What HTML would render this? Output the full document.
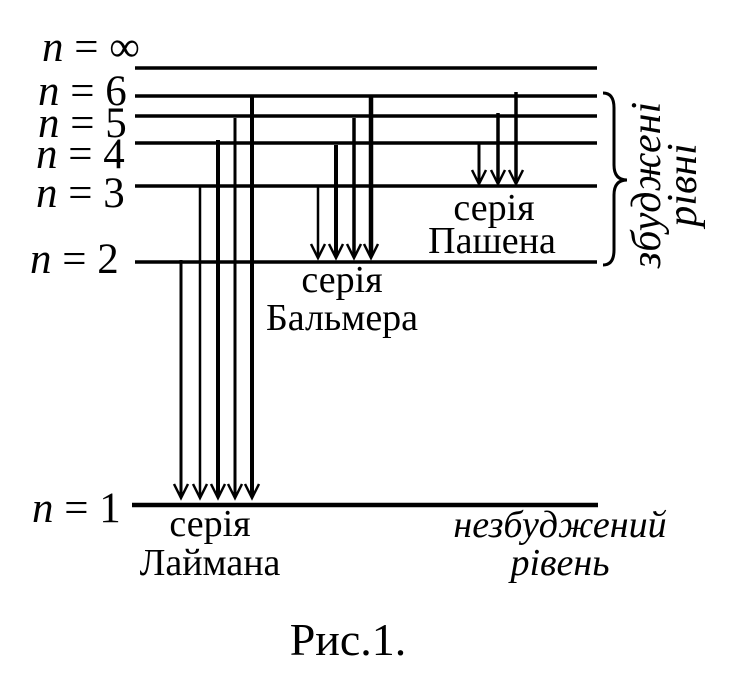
<!DOCTYPE html>
<html><head><meta charset="utf-8"><style>body{margin:0;background:#fff}</style></head><body>
<svg width="736" height="680" viewBox="0 0 736 680" xmlns="http://www.w3.org/2000/svg" font-family="Liberation Serif, serif">
<g stroke="#000" stroke-width="3.5">
<line x1="135" y1="68" x2="597" y2="68"/>
<line x1="135" y1="96" x2="597" y2="96"/>
<line x1="135" y1="116" x2="597" y2="116"/>
<line x1="135" y1="143" x2="597" y2="143"/>
<line x1="135" y1="186" x2="597" y2="186"/>
<line x1="135" y1="262" x2="597" y2="262"/>
<line x1="132" y1="505" x2="598" y2="505" stroke-width="4.5"/>
</g>
<g stroke="#000" fill="none">
<g stroke-width="3"><line x1="181" y1="260" x2="181" y2="496"/><line x1="200" y1="186" x2="200" y2="496" stroke-width="2.5"/><line x1="218" y1="140" x2="218" y2="496" stroke-width="4"/><line x1="235" y1="118" x2="235" y2="496"/><line x1="252" y1="96" x2="252" y2="496" stroke-width="4"/>
<line x1="318" y1="186" x2="318" y2="256" stroke-width="2.5"/><line x1="336" y1="145" x2="336" y2="256" stroke-width="4"/><line x1="354" y1="118" x2="354" y2="256" stroke-width="3.5"/><line x1="371" y1="95" x2="371" y2="256" stroke-width="4.5"/>
<line x1="479" y1="142" x2="479" y2="182"/><line x1="498" y1="113" x2="498" y2="182" stroke-width="3.5"/><line x1="516" y1="92" x2="516" y2="182" stroke-width="3.5"/></g>
<g stroke-width="2.5" stroke-linejoin="miter">
<polyline points="174,484 181,498 188,484"/><polyline points="193,484 200,498 207,484"/><polyline points="211,484 218,498 225,484"/><polyline points="228,484 235,498 242,484"/><polyline points="245,484 252,498 259,484"/>
<polyline points="311,244 318,258 325,244"/><polyline points="329,244 336,258 343,244"/><polyline points="347,244 354,258 361,244"/><polyline points="364,244 371,258 378,244"/>
<polyline points="472,170 479,184 486,170"/><polyline points="491,170 498,184 505,170"/><polyline points="509,170 516,184 523,170"/>
</g>
<path d="M603,93 Q614,93 614,108 L614,165 Q614,180 627,180 Q614,180 614,195 L614,250 Q614,265 603,265" stroke-width="3"/>
</g>
<g font-size="43">
<text x="42" y="61"><tspan font-style="italic">n</tspan> = ∞</text>
<text x="38" y="105"><tspan font-style="italic">n</tspan> = 6</text>
<text x="38" y="137"><tspan font-style="italic">n</tspan> = 5</text>
<text x="36" y="168"><tspan font-style="italic">n</tspan> = 4</text>
<text x="36" y="207"><tspan font-style="italic">n</tspan> = 3</text>
<text x="30" y="273"><tspan font-style="italic">n</tspan> = 2</text>
<text x="32" y="522"><tspan font-style="italic">n</tspan> = 1</text>
</g>
<g font-size="38" text-anchor="middle">
<text x="494" y="220">серія</text><text x="492" y="253">Пашена</text>
<text x="342" y="292">серія</text><text x="342" y="330">Бальмера</text>
<text x="210" y="536">серія</text><text x="210" y="575">Лаймана</text>
<text x="560" y="537" font-style="italic">незбуджений</text><text x="560" y="575" font-style="italic">рівень</text>
<text transform="translate(660,185) rotate(-90)" font-style="italic" font-size="42">збуджені</text>
<text transform="translate(696,185) rotate(-90)" font-style="italic" font-size="42">рівні</text>
<text x="348" y="655" font-size="46">Рис.1.</text>
</g>
</svg>
</body></html>
